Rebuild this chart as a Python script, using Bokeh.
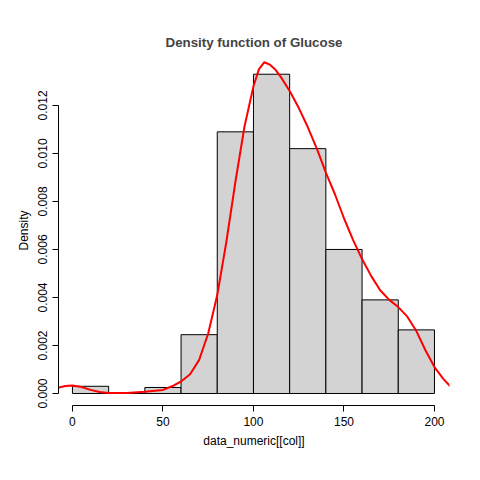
from bokeh.plotting import figure
from bokeh.models import FixedTicker, Range1d
from bokeh.embed import file_html
from bokeh.resources import INLINE

bin_left = [0, 20, 40, 60, 80, 100, 120, 140, 160, 180]
bin_right = [20, 40, 60, 80, 100, 120, 140, 160, 180, 200]
density = [0.0003, 0.0, 0.00025, 0.00245, 0.0109, 0.0133, 0.0102, 0.0060, 0.0039, 0.00265]

kde_x = [-9, -4, 0, 5, 10, 15, 20, 30, 40, 50, 55, 60, 65, 70, 75, 80, 85, 90, 95, 100,
         103, 106, 109, 112, 115, 120, 125, 130, 135, 140, 145, 150, 155, 160, 165, 170,
         175, 180, 185, 190, 195, 200, 205, 210]
kde_y = [0.00022, 0.00031, 0.00033, 0.00027, 0.00015, 0.00006, 0.00002, 0.00002, 0.00007, 0.00015,
         0.0003, 0.0005, 0.0008, 0.0014, 0.0025, 0.0041, 0.0063, 0.0088, 0.0111, 0.0128,
         0.0135, 0.0138, 0.0137, 0.0135, 0.0132, 0.0126, 0.0119, 0.0111, 0.0102, 0.0092,
         0.0083, 0.0073, 0.0064, 0.0056, 0.0049, 0.0043, 0.0039, 0.0036, 0.0032, 0.0026,
         0.0018, 0.0011, 0.0006, 0.0002]

p = figure(width=464, height=464, output_backend="svg", toolbar_location=None,
           title="Density function of Glucose",
           x_range=Range1d(-7.7, 208.3), y_range=Range1d(-0.0005, 0.01408),
           x_axis_label="data_numeric[[col]]", y_axis_label="Density",
           min_border_left=58, min_border_right=15, min_border_top=55, min_border_bottom=59)
p.frame_width = 391
p.frame_height = 350

p.quad(left=bin_left, right=bin_right, bottom=0, top=density,
       fill_color="#d3d3d3", line_color="black", line_width=1)
p.line(kde_x, kde_y, line_color="red", line_width=2)

p.title.align = "center"
p.title.text_font = "Liberation Sans"
p.title.text_font_size = "10pt"
p.title.text_font_style = "bold"
p.title.offset = 0
p.title.standoff = 12

p.xgrid.visible = False
p.ygrid.visible = False
p.outline_line_color = None

p.xaxis.ticker = FixedTicker(ticks=[0, 50, 100, 150, 200])
p.xaxis.bounds = (0, 200)
p.yaxis.ticker = FixedTicker(ticks=[0, 0.002, 0.004, 0.006, 0.008, 0.010, 0.012])
p.yaxis.bounds = (0, 0.012)
p.yaxis.major_label_overrides = {0: "0.000", 0.002: "0.002", 0.004: "0.004", 0.006: "0.006",
                                 0.008: "0.008", 0.01: "0.010", 0.012: "0.012"}
p.yaxis.major_label_orientation = "vertical"

for ax in (p.xaxis, p.yaxis):
    ax.minor_tick_line_color = None
    ax.major_tick_out = 6
    ax.major_tick_in = 0
    ax.axis_line_color = "black"
    ax.major_tick_line_color = "black"
    ax.major_label_text_font = "Liberation Sans"
    ax.major_label_text_font_size = "9pt"
    ax.major_label_text_color = "black"
    ax.axis_label_text_font = "Liberation Sans"
    ax.axis_label_text_font_size = "9pt"
    ax.axis_label_text_font_style = "normal"
    ax.axis_label_text_color = "black"

open("out.html", "w").write(file_html(p, INLINE))
